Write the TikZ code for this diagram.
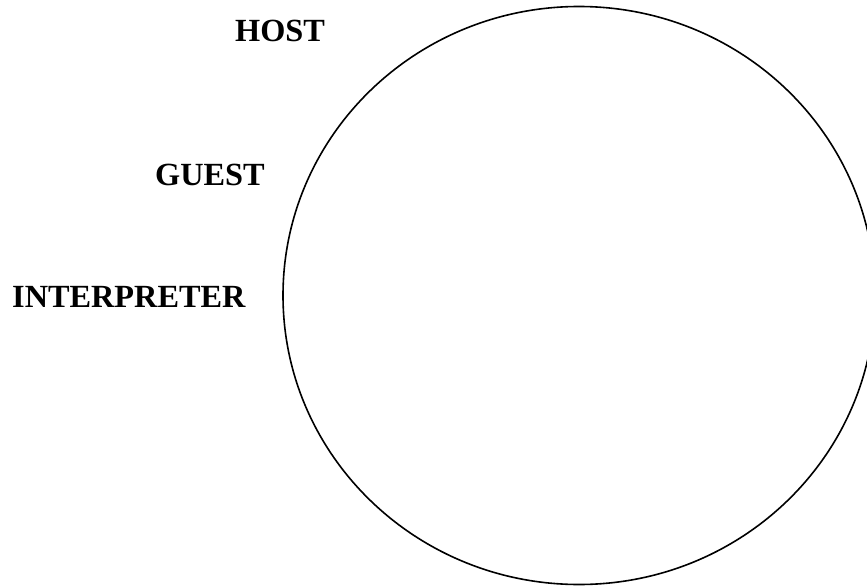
\documentclass[tikz,border=0pt]{standalone}
\usepackage{fontspec}
\setmainfont{Liberation Serif}
\begin{document}
\begin{tikzpicture}[x=1pt,y=-1pt,
  lbl/.style={font=\fontsize{32.3}{37}\selectfont\bfseries,inner sep=0pt,anchor=base west}]
\useasboundingbox (0,0) rectangle (867,586);
\draw[line width=1.6pt] (579,295.5) ellipse [x radius=296, y radius=289];
\node[lbl] (host) at (235,42) {HOST};
\node[lbl] (guest) at (155,185) {GUEST};
\node[lbl] (interp) at (12,307) {INTERPRETER};
\end{tikzpicture}
\end{document}
